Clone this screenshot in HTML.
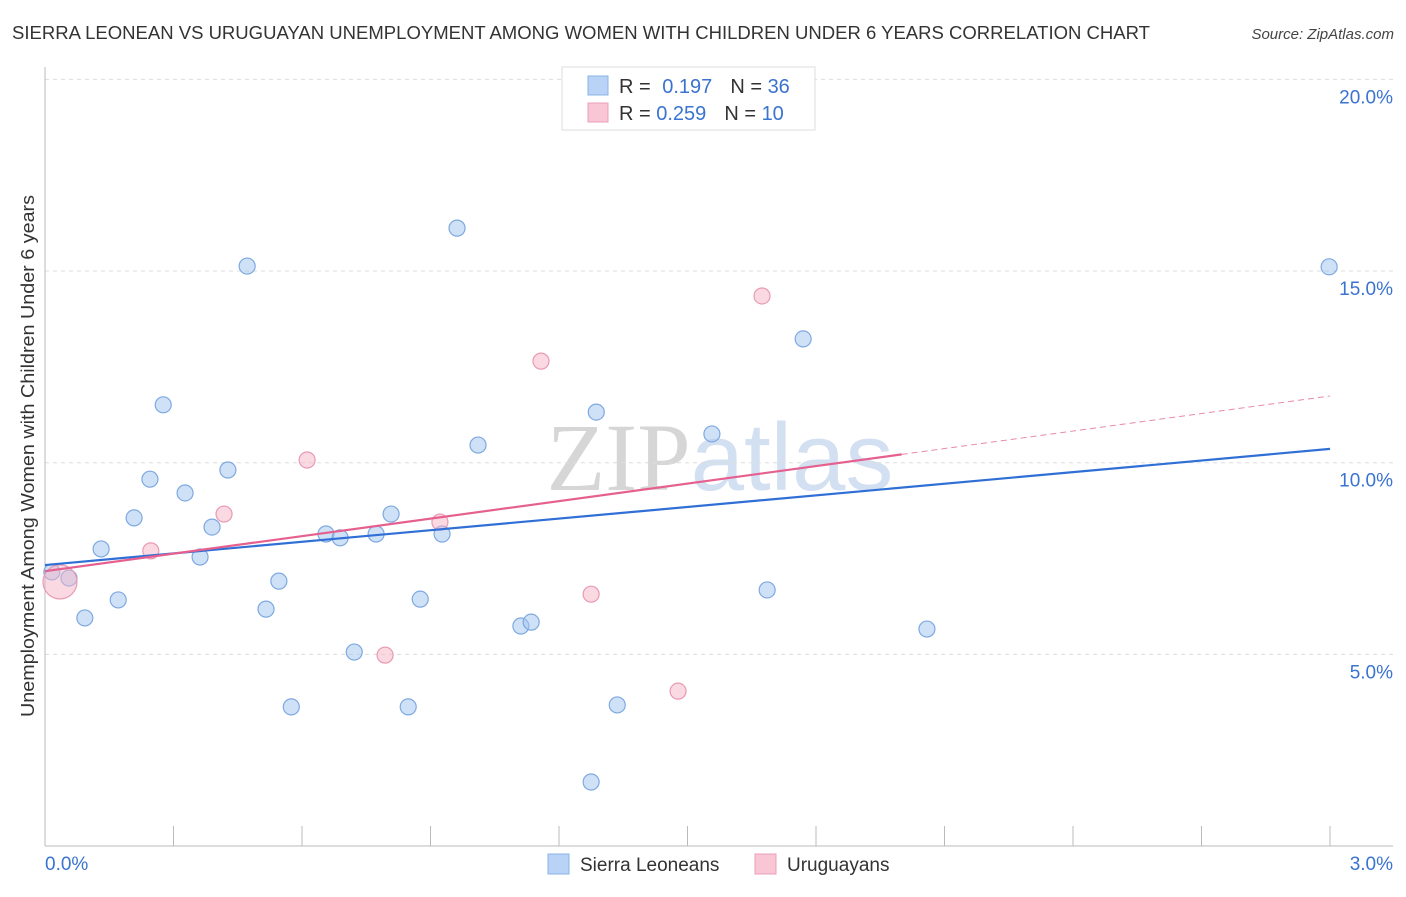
<!DOCTYPE html>
<html><head><meta charset="utf-8"><style>
body{margin:0;background:#fff;font-family:"Liberation Sans",sans-serif;}
svg text{font-family:"Liberation Sans",sans-serif;}
</style></head><body>
<svg id="chart" width="1406" height="892" xmlns="http://www.w3.org/2000/svg">
<text x="12" y="39" font-size="18" fill="#333" textLength="1138" lengthAdjust="spacingAndGlyphs">SIERRA LEONEAN VS URUGUAYAN UNEMPLOYMENT AMONG WOMEN WITH CHILDREN UNDER 6 YEARS CORRELATION CHART</text>
<text x="1394" y="39" font-size="15" fill="#444" text-anchor="end" font-style="italic">Source: ZipAtlas.com</text>
<text x="720" y="490" font-size="96" text-anchor="middle" fill="#ddd" opacity="0.8"><tspan font-family="Liberation Serif" fill="#ccc">ZIP</tspan><tspan fill="#c9d9ef">atlas</tspan></text>
<g id="grid"></g>
<g id="axes"></g>
<g id="marks"></g>
<text transform="translate(34,456) rotate(-90)" font-size="18" fill="#333" text-anchor="middle" textLength="522" lengthAdjust="spacingAndGlyphs">Unemployment Among Women with Children Under 6 years</text>
<g>
<rect x="562" y="67" width="253" height="63" fill="#fff" stroke="#ddd"/>
<rect x="588" y="76" width="20" height="19" fill="#b8d3f5" stroke="#8ab3e6"/>
<rect x="588" y="103" width="20" height="19" fill="#f8c6d5" stroke="#eb9fb7"/>
<text x="619" y="93" font-size="20" fill="#333">R = <tspan fill="#3a73d0" dx="6">0.197</tspan><tspan fill="#333" dx="18">N = </tspan><tspan fill="#3a73d0">36</tspan></text>
<text x="619" y="120" font-size="20" fill="#333">R = <tspan fill="#3a73d0">0.259</tspan><tspan fill="#333" dx="18">N = </tspan><tspan fill="#3a73d0">10</tspan></text>
</g>
<g>
<rect x="548" y="854" width="21" height="20" fill="#b8d3f5" stroke="#8ab3e6"/>
<text x="580" y="871" font-size="19" fill="#333">Sierra Leoneans</text>
<rect x="755" y="854" width="21" height="20" fill="#f8c6d5" stroke="#eb9fb7"/>
<text x="787" y="871" font-size="19" fill="#333">Uruguayans</text>
</g>
</svg>
<script>
const blueX=[0.016,0.056,0.093,0.131,0.171,0.208,0.245,0.276,0.327,0.362,0.390,0.427,0.472,0.516,0.546,0.575,0.656,0.689,0.722,0.773,0.808,0.848,0.876,0.927,0.962,1.011,1.111,1.135,1.275,1.287,1.336,1.557,1.686,1.770,2.059,2.998];
const blueY=[7.15,6.99,5.95,7.75,6.42,8.56,9.57,11.51,9.21,7.54,8.32,9.81,15.13,6.18,6.91,3.63,8.14,8.04,5.06,8.14,8.66,3.63,6.44,8.14,16.12,10.46,5.74,5.84,1.67,11.32,3.68,10.75,6.68,13.23,5.66,15.11];
const pinkX=[0.035,0.247,0.418,0.612,0.794,0.922,1.158,1.275,1.478,1.674];
const pinkY=[6.89,7.70,8.66,10.07,4.98,8.45,12.65,6.57,4.04,14.35];
const pinkR=[18,9,9,9,9,9,9,9,9,9];
const yTicks=[5,10,15,20];
const yTickLabels=["5.0%","10.0%","15.0%","20.0%"];
const xTickLabels=["0.0%","3.0%"];
const blueTrend=[7.33,10.36];
const pinkTrend=[7.17,11.74];
const pinkSolidEnd=2.0;
const NS="http://www.w3.org/2000/svg";
const X=v=>45+v*1285/3, Y=v=>846-v*38.33;
function mk(p,t,a){const e=document.createElementNS(NS,t);for(const k in a)e.setAttribute(k,a[k]);document.getElementById(p).appendChild(e);return e;}
yTicks.forEach((t,i)=>{
 const l=mk('grid','line',{x1:45,x2:1393,y1:Y(t),y2:Y(t),stroke:'#ddd','stroke-dasharray':'4,4'});
 
 
 const tx=mk('grid','text',{x:1393,y:Y(t)+24,'font-size':19,fill:'#3a73d0','text-anchor':'end'});
 tx.textContent=yTickLabels[i];
 
 
});
let a=mk('axes','line',{x1:45,x2:45,y1:67,y2:846,stroke:'#bbb'});

a=mk('axes','line',{x1:45,x2:1393,y1:846,y2:846,stroke:'#bbb'});

for(let i=0;i<=10;i++){const t=mk('axes','line',{x1:X(i*0.3),x2:X(i*0.3),y1:826,y2:846,stroke:'#bbb'});
 }
[[0,'start',45],[3,'end',1393]].forEach((d,i)=>{const t=mk('axes','text',{x:d[2],y:870,'font-size':19,fill:'#3a73d0','text-anchor':d[1]});t.textContent=xTickLabels[i];
 });
blueX.forEach((x,i)=>{const c=mk('marks','circle',{cx:X(x),cy:Y(blueY[i]),r:8,fill:'rgba(160,196,240,0.5)',stroke:'#7ea9e0','stroke-width':1.2});
 });
pinkX.forEach((x,i)=>{const c=mk('marks','circle',{cx:X(x),cy:Y(pinkY[i]),r:pinkR[i]-1,fill:'rgba(246,180,200,0.5)',stroke:'#e99ab3','stroke-width':1.2});
 });
let l=mk('marks','line',{x1:X(0),y1:Y(blueTrend[0]),x2:X(3),y2:Y(blueTrend[1]),stroke:'#2f6fd6','stroke-width':2.2});

const pf=x=>pinkTrend[0]+(pinkTrend[1]-pinkTrend[0])*x/3;
l=mk('marks','line',{x1:X(0),y1:Y(pf(0)),x2:X(pinkSolidEnd),y2:Y(pf(pinkSolidEnd)),stroke:'#e5608f','stroke-width':2.2});

l=mk('marks','line',{x1:X(pinkSolidEnd),y1:Y(pf(pinkSolidEnd)),x2:X(3),y2:Y(pf(3)),stroke:'#e88aa8','stroke-width':1,'stroke-dasharray':'6,4'});

</script>
</body></html>
